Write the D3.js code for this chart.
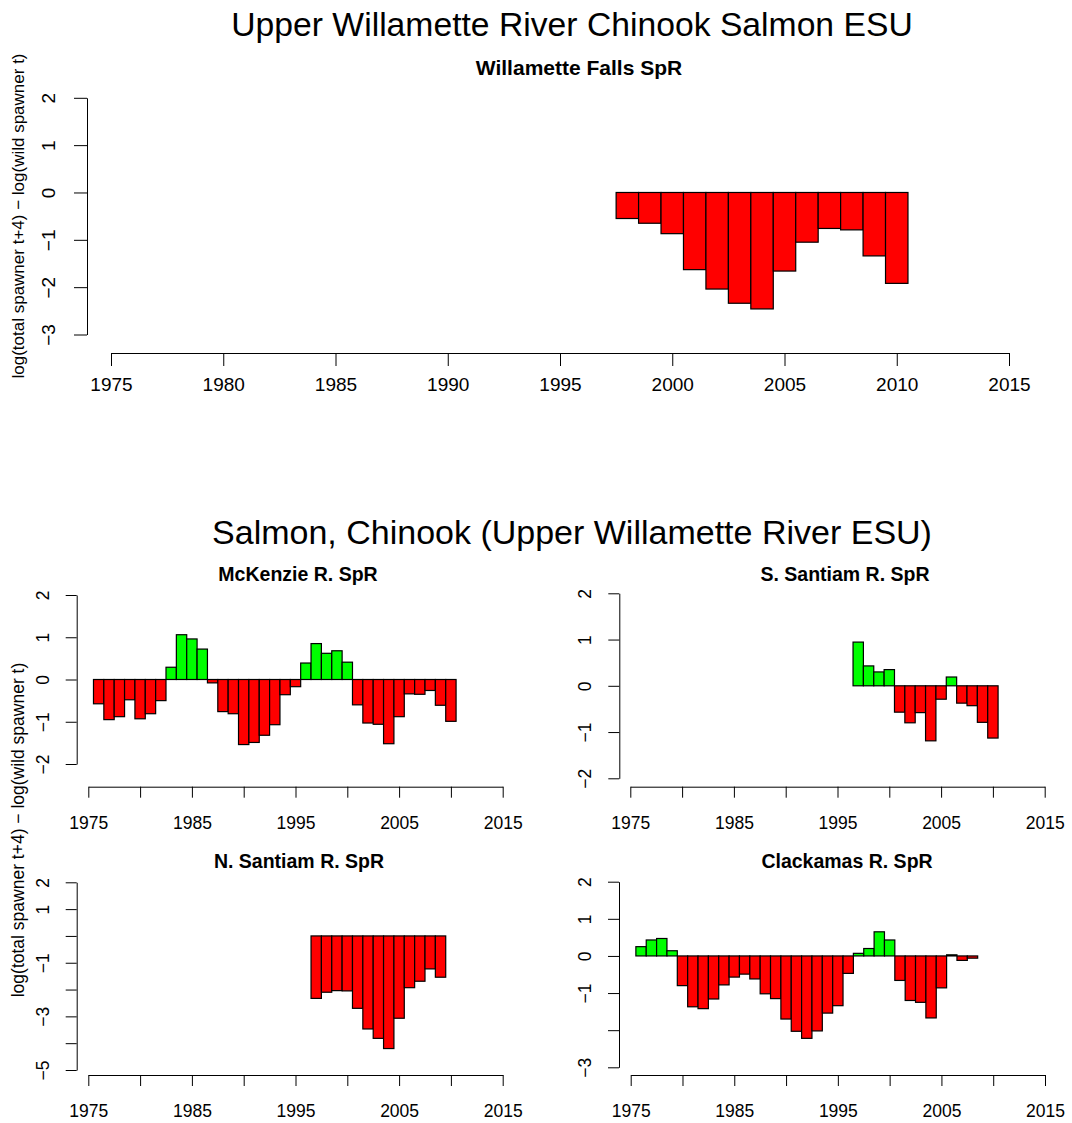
<!DOCTYPE html>
<html><head><meta charset="utf-8">
<script src="https://cdn.jsdelivr.net/npm/d3@7"></script>
<style>
body{margin:0;background:#fff}
text{font-family:"Liberation Sans",Arial,Helvetica,sans-serif;fill:#000}
</style>
</head><body>
<svg id="chart" width="1072" height="1123"></svg>
<script>
// ---------- data ----------
const mainTitle = "Upper Willamette River Chinook Salmon ESU";
const subTitle = "Salmon, Chinook (Upper Willamette River ESU)";
const yLabelText = "log(total spawner t+4) \u2212 log(wild spawner t)";

const xTickValues = [1975, 1980, 1985, 1990, 1995, 2000, 2005, 2010, 2015];
const xTickLabelsTop = [1975, 1980, 1985, 1990, 1995, 2000, 2005, 2010, 2015];
const xTickLabelsSmall = [1975, 1985, 1995, 2005, 2015];

const fallsTitle = "Willamette Falls SpR";
const fallsYears = [1998,1999,2000,2001,2002,2003,2004,2005,2006,2007,2008,2009,2010];
const fallsValues = [-0.55,-0.65,-0.87,-1.63,-2.04,-2.34,-2.46,-1.66,-1.05,-0.76,-0.79,-1.34,-1.92];
const fallsYTicks = [-3,-2,-1,0,1,2];
const fallsYLabels = [-3,-2,-1,0,1,2];

const mckTitle = "McKenzie R. SpR";
const mckYears = [1976,1977,1978,1979,1980,1981,1982,1983,1984,1985,1986,1987,1988,1989,1990,1991,1992,1993,1994,1995,1996,1997,1998,1999,2000,2001,2002,2003,2004,2005,2006,2007,2008,2009,2010];
const mckValues = [-0.575,-0.95,-0.88,-0.48,-0.93,-0.81,-0.50,0.29,1.06,0.96,0.72,-0.08,-0.76,-0.81,-1.54,-1.49,-1.32,-1.07,-0.36,-0.17,0.39,0.85,0.62,0.68,0.41,-0.60,-1.03,-1.06,-1.52,-0.88,-0.34,-0.35,-0.26,-0.61,-0.99];
const mckYTicks = [-2,-1,0,1,2];
const mckYLabels = [-2,-1,0,1,2];

const ssTitle = "S. Santiam R. SpR";
const ssYears = [1997,1998,1999,2000,2001,2002,2003,2004,2005,2006,2007,2008,2009,2010];
const ssValues = [0.945,0.43,0.30,0.35,-0.57,-0.80,-0.58,-1.19,-0.29,0.19,-0.375,-0.43,-0.79,-1.13];
const ssYTicks = [-2,-1,0,1,2];
const ssYLabels = [-2,-1,0,1,2];

const nsTitle = "N. Santiam R. SpR";
const nsYears = [1997,1998,1999,2000,2001,2002,2003,2004,2005,2006,2007,2008,2009];
const nsValues = [-2.33,-2.10,-2.04,-2.05,-2.70,-3.47,-3.82,-4.20,-3.07,-1.93,-1.69,-1.23,-1.54];
const nsYTicks = [-5,-4,-3,-2,-1,0,1,2];
const nsYLabels = [-5,-3,-1,1,2];

const clTitle = "Clackamas R. SpR";
const clYears = [1976,1977,1978,1979,1980,1981,1982,1983,1984,1985,1986,1987,1988,1989,1990,1991,1992,1993,1994,1995,1996,1997,1998,1999,2000,2001,2002,2003,2004,2005,2006,2007,2008];
const clValues = [0.25,0.43,0.47,0.14,-0.80,-1.37,-1.42,-1.16,-0.78,-0.57,-0.49,-0.62,-1.02,-1.15,-1.70,-2.03,-2.22,-2.02,-1.54,-1.34,-0.47,0.07,0.20,0.65,0.43,-0.66,-1.20,-1.25,-1.67,-0.86,0.03,-0.12,-0.06];
const clYTicks = [-3,-2,-1,0,1,2];
const clYLabels = [-3,-1,0,1,2];

const posColor = "#00FF00", negColor = "#FF0000";

// ---------- drawing ----------
const svg = d3.select("#chart");

function panel(cfg) {
  const x = d3.scaleLinear().domain([1975, 2015]).range([cfg.x0, cfg.x1]);
  const y = d3.scaleLinear().domain(cfg.yDom).range(cfg.yRange);
  const g = svg.append("g");

  // bars
  g.selectAll("rect.bar").data(cfg.years.map((yr, i) => ({yr, v: cfg.values[i]})))
    .enter().append("rect")
    .attr("x", d => x(d.yr - 0.5))
    .attr("width", d => x(d.yr + 0.5) - x(d.yr - 0.5))
    .attr("y", d => Math.min(y(0), y(d.v)))
    .attr("height", d => Math.abs(y(d.v) - y(0)))
    .attr("fill", d => d.v >= 0 ? posColor : negColor)
    .attr("stroke", "#000").attr("stroke-width", 1.2);

  // x axis
  const xa = d3.axisBottom(x).tickValues(xTickValues).tickSize(cfg.tick).tickSizeOuter(0)
    .tickFormat(d => cfg.xLabels.includes(d) ? String(d) : "");
  const gx = g.append("g").attr("transform", `translate(0,${cfg.axisY})`).call(xa);
  gx.selectAll("path,line").attr("stroke", "#000").attr("stroke-width", 1);
  gx.selectAll("text").attr("y", cfg.xLabOff).attr("dy", 0)
    .style("font-size", cfg.font + "px").attr("fill", "#000");

  // y axis
  const ya = d3.axisLeft(y).tickValues(cfg.yTicks).tickSize(cfg.tick).tickSizeOuter(0)
    .tickFormat(d => cfg.yLabels.includes(d) ? (d < 0 ? "\u2212" + Math.abs(d) : String(d)) : "");
  const gy = g.append("g").attr("transform", `translate(${cfg.axisX},0)`).call(ya);
  gy.selectAll("path,line").attr("stroke", "#000").attr("stroke-width", 1);
  gy.selectAll("text").attr("x", 0).attr("y", 0).attr("dy", "0.35em")
    .attr("text-anchor", "middle")
    .attr("transform", `translate(${-cfg.yLabOff},0) rotate(-90)`)
    .style("font-size", cfg.font + "px").attr("fill", "#000");
  g.selectAll(".domain").attr("stroke", "#000");

  // panel title
  g.append("text").attr("x", cfg.titleX).attr("y", cfg.titleY)
    .attr("text-anchor", "middle").style("font-weight", "bold")
    .style("font-size", cfg.titleFont + "px").text(cfg.title);
}

// titles
svg.append("text").attr("x", 572).attr("y", 36).attr("text-anchor", "middle")
  .style("font-size", "33.7px").text(mainTitle);
svg.append("text").attr("x", 572).attr("y", 544).attr("text-anchor", "middle")
  .style("font-size", "34px").text(subTitle);

// y labels
svg.append("text").attr("transform", "translate(18,216) rotate(-90)").attr("dy", "0.35em")
  .attr("text-anchor", "middle").style("font-size", "17px").text(yLabelText);
svg.append("text").attr("transform", "translate(18,830) rotate(-90)").attr("dy", "0.35em")
  .attr("text-anchor", "middle").style("font-size", "17.5px").text(yLabelText);

panel({title: fallsTitle, years: fallsYears, values: fallsValues, yTicks: fallsYTicks, yLabels: fallsYLabels,
  xLabels: xTickLabelsTop, x0: 111, x1: 1009, yDom: [-3, 2], yRange: [334.5, 97.8],
  axisX: 87, axisY: 353, tick: 13, font: 19, xLabOff: 38, yLabOff: 39, titleX: 579, titleY: 75, titleFont: 21});

panel({title: mckTitle, years: mckYears, values: mckValues, yTicks: mckYTicks, yLabels: mckYLabels,
  xLabels: xTickLabelsSmall, x0: 88.3, x1: 502.7, yDom: [-2, 2], yRange: [764, 595],
  axisX: 76.7, axisY: 786.7, tick: 11, font: 17.5, xLabOff: 42.5, yLabOff: 33.5, titleX: 298, titleY: 581, titleFont: 19.5});

panel({title: ssTitle, years: ssYears, values: ssValues, yTicks: ssYTicks, yLabels: ssYLabels,
  xLabels: xTickLabelsSmall, x0: 630.3, x1: 1044.7, yDom: [-2, 2], yRange: [778.3, 593.3],
  axisX: 619.3, axisY: 786.7, tick: 11, font: 17.5, xLabOff: 42.5, yLabOff: 34, titleX: 845, titleY: 581, titleFont: 19.5});

panel({title: nsTitle, years: nsYears, values: nsValues, yTicks: nsYTicks, yLabels: nsYLabels,
  xLabels: xTickLabelsSmall, x0: 88.3, x1: 502.7, yDom: [-5, 2], yRange: [1070, 882.3],
  axisX: 76.7, axisY: 1075, tick: 11, font: 17.5, xLabOff: 41.5, yLabOff: 33.5, titleX: 299, titleY: 868, titleFont: 19.5});

panel({title: clTitle, years: clYears, values: clValues, yTicks: clYTicks, yLabels: clYLabels,
  xLabels: xTickLabelsSmall, x0: 630.7, x1: 1045, yDom: [-3, 2], yRange: [1067.3, 881.7],
  axisX: 619, axisY: 1075, tick: 11, font: 17.5, xLabOff: 41.5, yLabOff: 34, titleX: 847, titleY: 868, titleFont: 19.5});
</script>
</body></html>
